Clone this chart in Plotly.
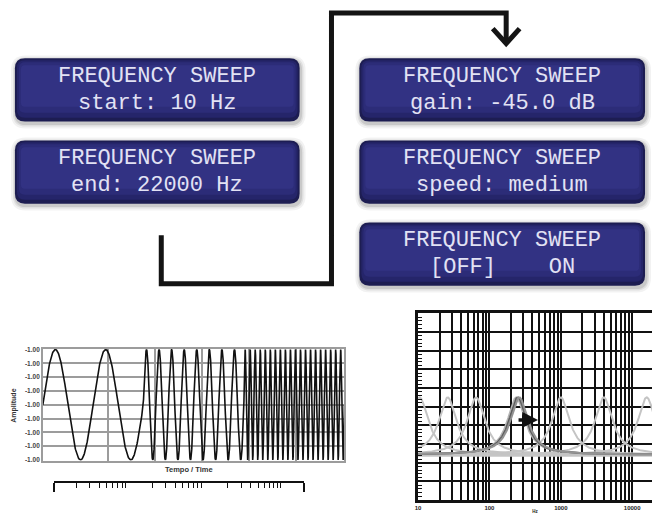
"""Frequency sweep menu screens with sweep signal and response charts."""

import numpy as np
import plotly.graph_objects as go

W, H = 652, 514

# ── Data ───────────────────────────────────────────────────────────
lcd_left = [("FREQUENCY SWEEP", "start: 10 Hz"),
            ("FREQUENCY SWEEP", "end: 22000 Hz")]
lcd_right = [("FREQUENCY SWEEP", "gain: -45.0 dB"),
             ("FREQUENCY SWEEP", "speed: medium"),
             ("FREQUENCY SWEEP", "[OFF]    ON")]

# stepped sine sweep: step boundaries (time units) and cycles per step
sweep_bounds = [0.0, 1.0, 2.0, 3.0]
sweep_cycles = [2, 8, 20]
amp_ticks = [-1.0, -0.75, -0.5, -0.25, 0.0, 0.25, 0.5, 0.75, 1.0]
amp_labels = ["-1.00"] * 9
time_grid = [0.653, 1.12, 1.585, 2.05, 2.52]

# resonance peaks (Hz) on the response chart
peaks_light = [10.5, 26, 65, 1000, 4000, 16000]
peaks_dark = [238, 250, 262]
peak_level = 5.5
base_level = 2.43
peak_width = 0.15          # half width, decades
freq_ticks = [10, 100, 1000, 10000]
freq_labels = ["10", "100", "1000", "10000"]
freq_minor = [m * d for d in (10, 100, 1000) for m in range(2, 10)] + [20000]
ruler_ends = [10, 20000]
ruler_minor = [m * d for d in (10, 100, 1000) for m in range(2, 10)] + [10000]


def px(x, y):
    return x / W, 1 - y / H


def rr_path(x0, y0, x1, y1, r):
    pts = [
        ("M", x0 + r, y0), ("L", x1 - r, y0), ("Q", x1, y0, x1, y0 + r),
        ("L", x1, y1 - r), ("Q", x1, y1, x1 - r, y1), ("L", x0 + r, y1),
        ("Q", x0, y1, x0, y1 - r), ("L", x0, y0 + r), ("Q", x0, y0, x0 + r, y0),
    ]
    out = []
    for p in pts:
        cmd, coords = p[0], p[1:]
        xy = []
        for i in range(0, len(coords), 2):
            a, b = px(coords[i], coords[i + 1])
            xy.append(f"{a:.5f},{b:.5f}")
        out.append(cmd + " ".join(xy))
    return " ".join(out) + " Z"


def resonance(f, fc):
    return base_level + (peak_level - base_level) / (
        1 + ((np.log10(f) - np.log10(fc)) / peak_width) ** 2)


fig = go.Figure()

# ── Sweep signal ───────────────────────────────────────────────────
t_all, y_all = [], []
for i, cyc in enumerate(sweep_cycles):
    t0, t1 = sweep_bounds[i], sweep_bounds[i + 1]
    t = np.linspace(t0, t1, 200 * cyc + 1)
    t_all.append(t)
    y_all.append(np.sin(2 * np.pi * cyc * (t - t0) / (t1 - t0)))
fig.add_trace(go.Scatter(
    x=np.concatenate(t_all), y=np.concatenate(y_all), mode="lines",
    line=dict(color="#111111", width=1.6), xaxis="x", yaxis="y",
    hoverinfo="skip"))

# ruler under the sweep (needs a trace so the axis is drawn)
fig.add_trace(go.Scatter(x=ruler_ends, y=[0, 0], mode="markers",
                         marker=dict(opacity=0), xaxis="x3", yaxis="y3",
                         hoverinfo="skip"))

# ── Frequency response ─────────────────────────────────────────────
f = np.logspace(1, 4.3, 900)
fig.add_trace(go.Scatter(x=f, y=np.full_like(f, base_level), mode="lines",
                         line=dict(color="#c6c6c6", width=4),
                         xaxis="x2", yaxis="y2", hoverinfo="skip"))
for fc in peaks_light:
    fig.add_trace(go.Scatter(x=f, y=resonance(f, fc), mode="lines",
                             line=dict(color="#c4c4c4", width=2),
                             xaxis="x2", yaxis="y2", hoverinfo="skip"))
for fc, col in zip(peaks_dark, ["#b4b4b4", "#5e5e5e", "#939393"]):
    fig.add_trace(go.Scatter(x=f, y=resonance(f, fc), mode="lines",
                             line=dict(color=col, width=2),
                             xaxis="x2", yaxis="y2", hoverinfo="skip"))

# ── LCD panels ─────────────────────────────────────────────────────
shapes = []
annotations = []
panels = [(12, 298, 56, lcd_left[0]), (12, 298, 139, lcd_left[1]),
          (358, 645, 56, lcd_right[0]), (358, 645, 139, lcd_right[1]),
          (358, 645, 222, lcd_right[2])]
ph, r = 64, 10
layers = [(0, 0, 0, "#1d1d52"), (2, 2, 4, "#25256a"),
          (4, 4, 9, "#2c2c78"), (6, 7, 15, "#323283")]
for x0, x1, y0, (l1, l2) in panels:
    y1 = y0 + ph
    for d, a in [(5, 0.05), (3, 0.07), (1.5, 0.1)]:
        shapes.append(dict(type="path", xref="paper", yref="paper",
                           path=rr_path(x0 - d + 1, y0 - d + 2, x1 + d + 1, y1 + d + 2, r + d),
                           fillcolor=f"rgba(0,0,0,{a})", line=dict(width=0)))
    for sx, st, sb, col in layers:
        shapes.append(dict(type="path", xref="paper", yref="paper",
                           path=rr_path(x0 + sx, y0 + st, x1 - sx, y1 - sb, max(r - sx, 4)),
                           fillcolor=col, line=dict(width=0)))
    cx = (x0 + x1) / 2
    for txt, dy in [(l1, 18), (l2, 45.5)]:
        ax_, ay_ = px(cx, y0 + dy)
        annotations.append(dict(
            x=ax_, y=ay_, xref="paper", yref="paper", showarrow=False,
            text=txt.replace(" ", "\u00a0"), xanchor="center", yanchor="middle",
            font=dict(family="Liberation Mono", size=22, color="#e2e2f4")))

# connector line and arrow head
conn = [(159, 235), (159, 284), (330, 284), (330, 10), (505.5, 10), (505.5, 40)]
path = "M" + " L".join("{:.5f},{:.5f}".format(*px(a, b)) for a, b in conn)
shapes.append(dict(type="path", xref="paper", yref="paper", path=path,
                   line=dict(color="#141414", width=5)))
head = [(492, 26), (505.5, 41), (519, 26)]
path = "M" + " L".join("{:.5f},{:.5f}".format(*px(a, b)) for a, b in head)
shapes.append(dict(type="path", xref="paper", yref="paper", path=path,
                   line=dict(color="#141414", width=5)))

# chart texts
bold_small = dict(family="Liberation Sans", size=7, color="#333333", weight="bold")
ax_, ay_ = px(11.5, 407)
annotations.append(dict(x=ax_, y=ay_, xref="paper", yref="paper", showarrow=False,
                        xanchor="center", yanchor="middle",
                        text="Amplitude", textangle=-90, font=bold_small))
ax_, ay_ = px(187, 472.5)
annotations.append(dict(x=ax_, y=ay_, xref="paper", yref="paper", showarrow=False,
                        xanchor="center", yanchor="middle",
                        text="Tempo / Time", font=dict(bold_small, size=7.5)))

# arrow on the response chart
annotations.append(dict(x=np.log10(480), y=4.29, ax=-21, ay=0,
                        xref="x2", yref="y2", showarrow=True, arrowhead=2,
                        arrowsize=0.9, arrowwidth=3.5, arrowcolor="#111111", text=""))

grey = "#9c9c9c"
fig.update_layout(
    width=W, height=H, margin=dict(l=0, r=0, t=0, b=0),
    paper_bgcolor="white", plot_bgcolor="white", showlegend=False,
    shapes=shapes, annotations=annotations,
    xaxis=dict(domain=[40 / W, 343 / W], range=[0, 3], anchor="y",
               tickvals=time_grid, showticklabels=False, ticks="",
               showgrid=True, gridcolor=grey, gridwidth=1.5, zeroline=False,
               showline=True, linecolor=grey, linewidth=1.5, mirror=True),
    yaxis=dict(domain=[1 - 463 / H, 1 - 350 / H], range=[-1.012, 1.012], anchor="x",
               tickvals=amp_ticks, ticktext=amp_labels, ticks="",
               tickfont=dict(family="Liberation Sans", size=6.5, color="#444444", weight="bold"),
               showgrid=True, gridcolor=grey, gridwidth=1.5, zeroline=False,
               showline=True, linecolor=grey, linewidth=1.5, mirror=True),
    xaxis3=dict(domain=[51 / W, 302 / W], anchor="free", position=1 - 485 / H,
                type="log", range=[1, 4.301], showline=True, linecolor="#111111",
                linewidth=2, tickvals=ruler_ends, ticks="outside", ticklen=9,
                tickwidth=2, tickcolor="#111111", showticklabels=False,
                showgrid=False, zeroline=False,
                minor=dict(tickvals=ruler_minor, ticks="outside", ticklen=5,
                           tickwidth=1.2, tickcolor="#111111", showgrid=False)),
    yaxis3=dict(domain=[0.0, 0.02], anchor="x3", visible=False, range=[-1, 1]),
    xaxis2=dict(domain=[417 / W, 1], anchor="y2", type="log", range=[1, 4.278],
                tickvals=freq_ticks, ticktext=freq_labels, ticks="",
                tickfont=dict(family="Liberation Sans", size=6, color="#222222", weight="bold"),
                showgrid=True, gridcolor="#111111", gridwidth=1.6, zeroline=False,
                showline=True, linecolor="#111111", linewidth=2.5, mirror=True,
                title=dict(text="Hz", font=dict(family="Liberation Sans", size=4.5,
                                                color="#222222", weight="bold"), standoff=0),
                minor=dict(tickvals=freq_minor, showgrid=True, gridcolor="#111111",
                           gridwidth=1.6, ticks="")),
    yaxis2=dict(domain=[1 - 503 / H, 1 - 314 / H], anchor="x2", range=[0, 10],
                dtick=1, showticklabels=False, ticks="",
                showgrid=True, gridcolor="#111111", gridwidth=1.6, zeroline=False,
                showline=True, linecolor="#111111", linewidth=2.5,
                minor=dict(dtick=0.2, ticks="inside", ticklen=4, tickwidth=1,
                           tickcolor="#111111", showgrid=False)),
)

fig.write_html("out.html", config={"displayModeBar": False},
               post_script="document.body.style.margin='0';"
                           "document.body.style.overflow='hidden';")
